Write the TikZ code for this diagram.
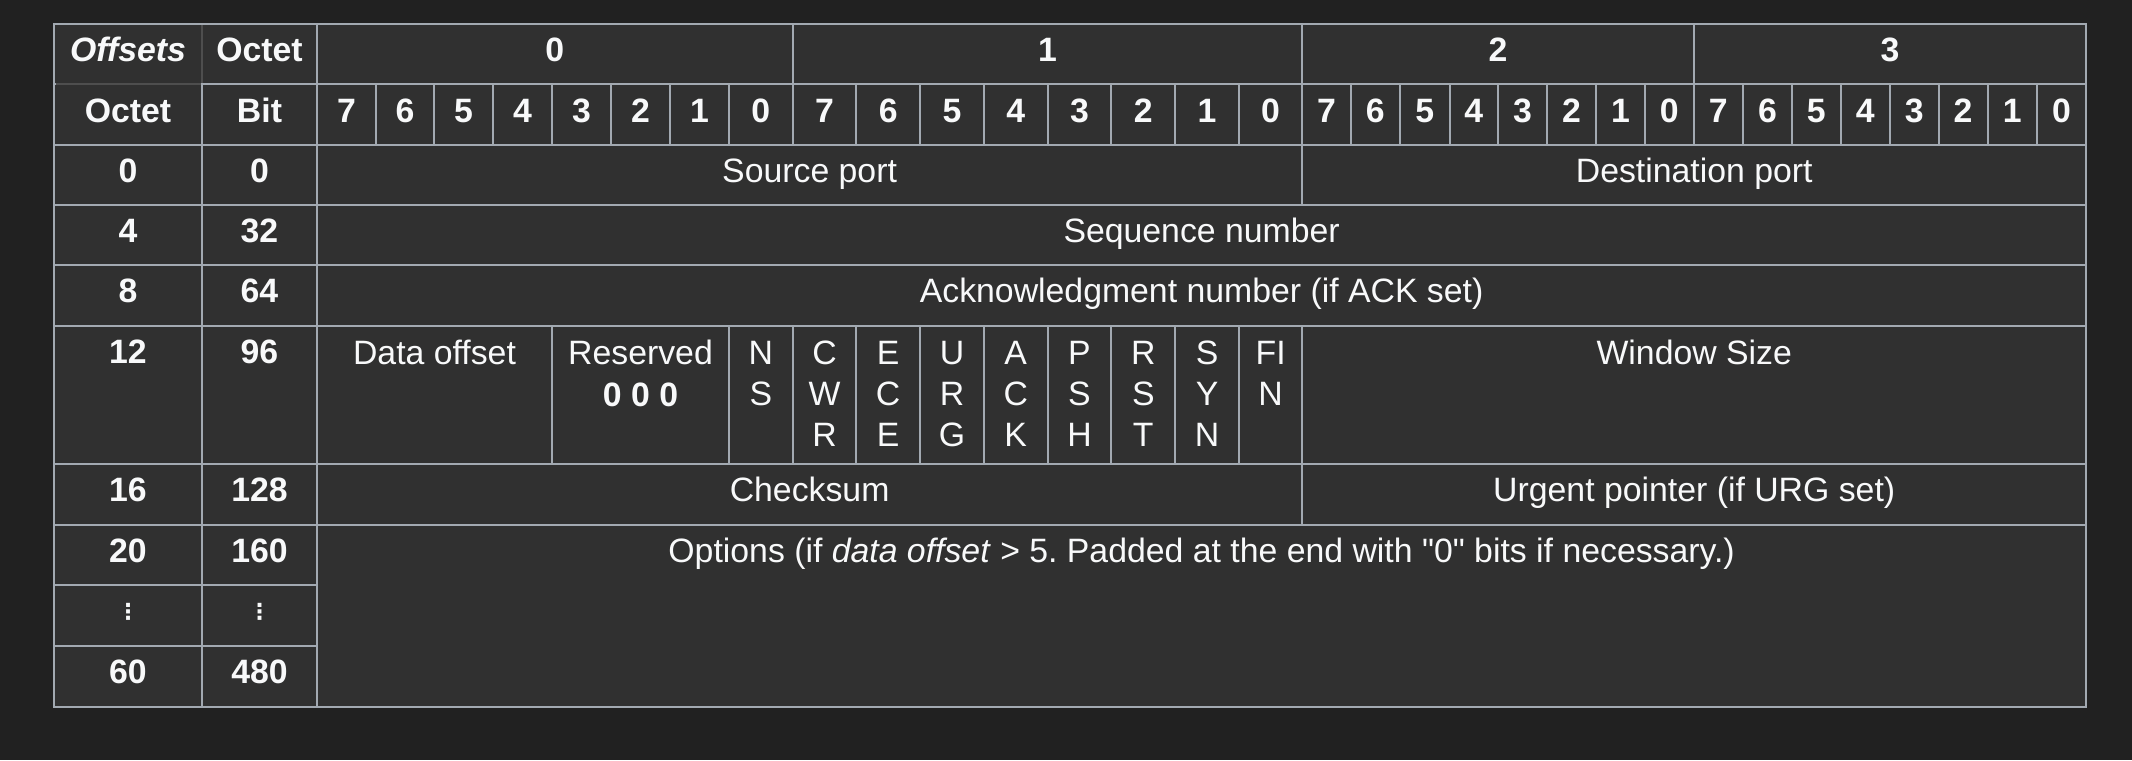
\documentclass[tikz,border=0pt]{standalone}
\usepackage{fontspec}
\setmainfont[Ligatures=TeXOff]{Liberation Sans}
\newfontfamily\dejavu{DejaVu Sans}
\frenchspacing
\definecolor{outerbg}{HTML}{212121}
\definecolor{cellbg}{HTML}{303030}
\definecolor{gridc}{HTML}{A2A9B1}
\definecolor{darkgrid}{HTML}{4E4E4E}
\definecolor{txtc}{HTML}{F8F9FA}
\tikzset{
  cellline/.style={draw=gridc, line width=2pt},
  darkline/.style={draw=darkgrid, line width=1.5pt},
  txt/.style={anchor=base, inner sep=0pt, text=txtc, font=\fontsize{33.8}{41.5}\selectfont},
  btxt/.style={txt, font=\fontsize{33.8}{41.5}\selectfont\bfseries},
  bitxt/.style={txt, font=\fontsize{33.8}{41.5}\selectfont\bfseries\itshape},
  dotstxt/.style={anchor=center, inner sep=0pt, text=txtc, font=\dejavu\bfseries\fontsize{22}{26}\selectfont},
}
\begin{document}
\begin{tikzpicture}[x=1pt,y=-1pt]
\useasboundingbox (0,0) rectangle (2132,760);
\fill[outerbg] (0,0) rectangle (2132,760);
\fill[cellbg] (54,24) rectangle (2086.2,707);

% ---- Row 1: header
\draw[cellline] (54,24) rectangle (202,84);
\draw[cellline] (202,24) rectangle (317,84);
\node[bitxt] (hoffsets) at (128,62) {Offsets};
\node[btxt] (hoctet) at (259.5,62) {Octet};
\foreach \xa/\xb/\lab [count=\i] in {317/792.6/0, 792.6/1302.2/1, 1302.2/1693.6/2, 1693.6/2086.2/3}{
  \draw[cellline] (\xa,24) rectangle (\xb,84);
  \node[btxt] (oct\i) at ({(\xa+\xb)/2},62) {\lab};
}

% ---- Row 2: bits
\draw[cellline] (54,84) rectangle (202,145);
\draw[cellline] (202,84) rectangle (317,145);
\node[btxt] (hoctet2) at (128,122.5) {Octet};
\node[btxt] (hbit) at (259.5,122.5) {Bit};
\foreach \xa/\xb/\lab [count=\i] in {
  317/376/7, 376/434/6, 434/493/5, 493/552/4, 552/611/3, 611/670/2, 670/729/1, 729/792.6/0,
  792.6/856.3/7, 856.3/920/6, 920/983.9/5, 983.9/1047.6/4, 1047.6/1111.4/3, 1111.4/1175.2/2, 1175.2/1239/1, 1239/1302.2/0,
  1302.2/1351/7, 1351/1399.7/6, 1399.7/1449.6/5, 1449.6/1497.9/4, 1497.9/1547/3, 1547/1596/2, 1596/1644.8/1, 1644.8/1693.6/0,
  1693.6/1743/7, 1743/1791.8/6, 1791.8/1840.6/5, 1840.6/1890/4, 1890/1938.7/3, 1938.7/1987.5/2, 1987.5/2036.9/1, 2036.9/2086.2/0}{
  \draw[cellline] (\xa,84) rectangle (\xb,145);
  \node[btxt] (bit\i) at ({(\xa+\xb)/2},122.5) {\lab};
}

% ---- left offset columns
\foreach \ya/\yb/\oc/\bt [count=\i] in {145/205/0/0, 205/265/4/32, 265/326/8/64, 326/464/12/96, 464/525/16/128, 525/585/20/160, 646/707/60/480}{
  \draw[cellline] (54,\ya) rectangle (202,\yb);
  \draw[cellline] (202,\ya) rectangle (317,\yb);
  \node[btxt] (roct\i) at (128,{\ya+37.7}) {\oc};
  \node[btxt] (rbit\i) at (259.5,{\ya+37.7}) {\bt};
}
\draw[cellline] (54,585) rectangle (202,646);
\draw[cellline] (202,585) rectangle (317,646);
\node[dotstxt] (vdotsa) at (128,612) {⋮};
\node[dotstxt] (vdotsb) at (259.5,612) {⋮};

% ---- Row 3
\draw[cellline] (317,145) rectangle (1302.2,205);
\draw[cellline] (1302.2,145) rectangle (2086.2,205);
\node[txt] (srcport) at (809.6,182.7) {Source port};
\node[txt] (dstport) at (1694.2,182.7) {Destination port};

% ---- Row 4
\draw[cellline] (317,205) rectangle (2086.2,265);
\node[txt] (seqnum) at (1201.6,242.7) {Sequence number};

% ---- Row 5
\draw[cellline] (317,265) rectangle (2086.2,326);
\node[txt] (acknum) at (1201.6,302.7) {Acknowledgment number (if ACK set)};

% ---- Row 6: flags
\draw[cellline] (317,326) rectangle (552,464);
\node[txt] (dataoff) at (434.5,364) {Data offset};
\draw[cellline] (552,326) rectangle (729,464);
\node[txt] (reserved) at (640.5,364) {Reserved};
\node[btxt] (reszero) at (640.5,406) {0 0 0};
\foreach \xa/\xb/\letters [count=\i] in {
  729/792.6/{N,S}, 792.6/856.3/{C,W,R}, 856.3/920/{E,C,E}, 920/983.9/{U,R,G},
  983.9/1047.6/{A,C,K}, 1047.6/1111.4/{P,S,H}, 1111.4/1175.2/{R,S,T},
  1175.2/1239/{S,Y,N}, 1239/1302.2/{FI,N}}{
  \draw[cellline] (\xa,326) rectangle (\xb,464);
  \foreach \ltr [count=\k] in \letters {
    \node[txt] (flag\i-\k) at ({(\xa+\xb)/2},{364+41.3*(\k-1)}) {\ltr};
  }
}
\draw[cellline] (1302.2,326) rectangle (2086.2,464);
\node[txt] (winsize) at (1694.2,364) {Window Size};

% ---- Row 7
\draw[cellline] (317,464) rectangle (1302.2,525);
\draw[cellline] (1302.2,464) rectangle (2086.2,525);
\node[txt] (checksum) at (809.6,501.7) {Checksum};
\node[txt] (urgptr) at (1694.2,501.7) {Urgent pointer (if URG set)};

% ---- Options
\draw[cellline] (317,525) rectangle (2086.2,707);
\node[txt] (options) at (1201.6,562.7) {Options (if \textit{data offset} > 5. Padded at the end with "0" bits if necessary.)};

% ---- darker header separators
\draw[darkline] (202,25.5) -- (202,83);
\draw[darkline] (55.5,84) -- (201,84);
\end{tikzpicture}
\end{document}
